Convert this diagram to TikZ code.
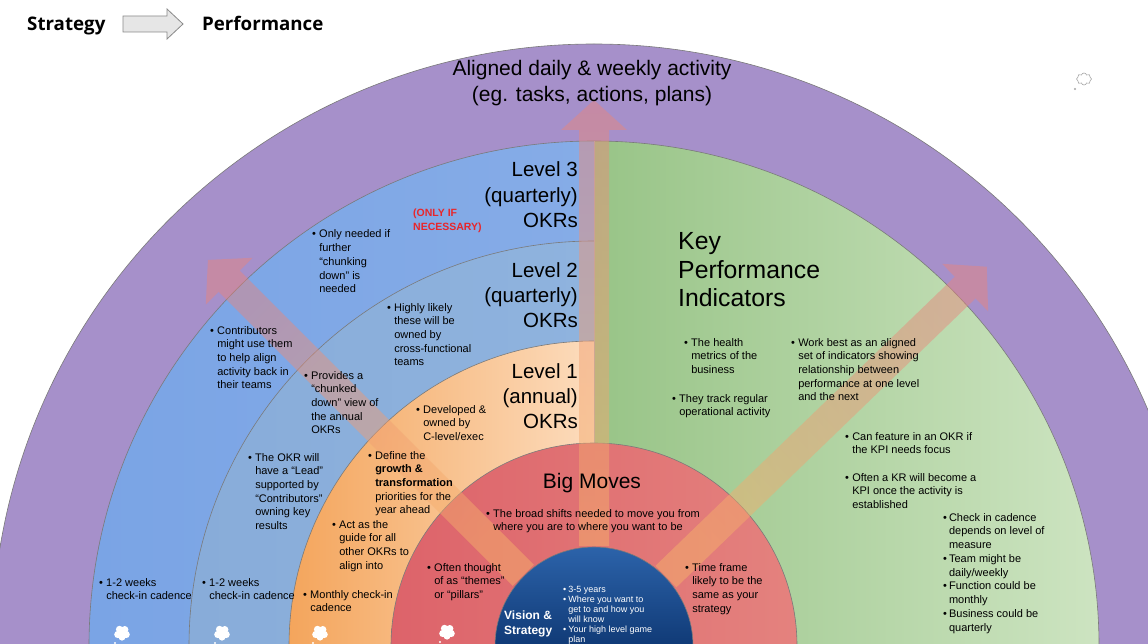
\documentclass[tikz,border=0pt]{standalone}
\usepackage{fontspec}
\setmainfont{Liberation Sans}
\newfontfamily\hdrfont{Open Sans}
\usetikzlibrary{shapes.symbols}
\definecolor{ringgray}{HTML}{7A7A7A}
\definecolor{purpL}{HTML}{A690CA}
\definecolor{purpM}{HTML}{C2B4DE}
\definecolor{lthreeL}{HTML}{7AA4E5}
\definecolor{lthreeM}{HTML}{CCDCF5}
\definecolor{lthreeR}{HTML}{86ACE7}
\definecolor{ltwoL}{HTML}{88ACD9}
\definecolor{ltwoM}{HTML}{B4CDE9}
\definecolor{ltwoR}{HTML}{8FB3DE}
\definecolor{loneL}{HTML}{F4A55C}
\definecolor{loneR}{HTML}{FCDCBD}
\definecolor{greenL}{HTML}{98C487}
\definecolor{greenR}{HTML}{CDE4C1}
\definecolor{redL}{HTML}{DD636A}
\definecolor{redM}{HTML}{F1B0A8}
\definecolor{redR}{HTML}{E4827E}
\definecolor{visT}{HTML}{2C63AA}
\definecolor{visB}{HTML}{103A76}
\definecolor{arrTip}{HTML}{E8847C}
\definecolor{arrBase}{HTML}{F7B56A}
\definecolor{onlyred}{HTML}{E8262B}
\definecolor{hdrarrow}{HTML}{E6E6E6}
\definecolor{hdrline}{HTML}{8A8A8A}
\newcommand\lcol[1]{\begin{tabular}[t]{@{}l@{}}#1\end{tabular}}
\newcommand\rcol[1]{\begin{tabular}[t]{@{}r@{}}#1\end{tabular}}
\newcommand\ccol[1]{\begin{tabular}[t]{@{}c@{}}#1\end{tabular}}
\newcommand\bul[1]{\textbullet\hspace{3.2pt}\lcol{#1}}
\newcommand\cloudat[2]{%
  \fill[white] (#1,#2) circle (4.6pt) (#1-4.2,#2+1.5) circle (3.6pt) (#1+4.2,#2+1.5) circle (3.6pt)
    (#1-2.5,#2-3.6) circle (3.6pt) (#1+2.8,#2-3.4) circle (3.6pt) (#1,#2+4.2) circle (3.4pt)
    (#1-7,#2+10) circle (1.2pt);}
\begin{document}
\begin{tikzpicture}[x=1pt,y=-1pt,
  ring/.style={draw=ringgray, line width=0.6pt},
  bigarrow/.style={top color=arrTip, bottom color=arrBase, fill opacity=0.47, draw=none},
  sm/.style={font=\fontsize{11}{13.7}\selectfont, inner sep=0pt, anchor=base west, text=black},
  hd/.style={font=\hdrfont\bfseries\fontsize{18.7}{22}\selectfont, inner sep=0pt, anchor=base west},
  big/.style={font=\fontsize{21}{26}\selectfont, inner sep=0pt, anchor=base},
  lvl/.style={font=\fontsize{20.5}{25.3}\selectfont, inner sep=0pt, anchor=base east},
  kpi/.style={font=\fontsize{24.8}{28.5}\selectfont, inner sep=0pt, anchor=base west},
  onlyif/.style={font=\bfseries\fontsize{10.5}{14}\selectfont, text=onlyred, inner sep=0pt, anchor=base west},
  vis/.style={font=\bfseries\fontsize{12}{15}\selectfont, text=white, inner sep=0pt, anchor=base west},
  vissm/.style={font=\fontsize{9}{10.1}\selectfont, text=white, inner sep=0pt, anchor=base west},
]
\useasboundingbox (0,0) rectangle (1148,644);
\clip (0,0) rectangle (1148,644);
\fill[white] (0,0) rectangle (1148,644);

% rings
\shade[left color=purpL, middle color=purpM, right color=purpL] (-8,646) arc[start angle=180,end angle=0,radius=602pt] -- cycle;
\draw[ring] (-8,646) arc[start angle=180,end angle=0,radius=602pt];
\shade[left color=lthreeL, middle color=lthreeM, right color=lthreeR] (89,646) arc[start angle=180,end angle=90,radius=505pt] -- (594,646) -- cycle;
\shade[left color=greenL, right color=greenR] (594,646) -- (1099,646) arc[start angle=0,end angle=90,radius=505pt] -- cycle;
\draw[ring] (89,646) arc[start angle=180,end angle=0,radius=505pt];
\shade[left color=ltwoL, middle color=ltwoM, right color=ltwoR] (189,646) arc[start angle=180,end angle=90,radius=405pt] -- (594,646) -- cycle;
\draw[ring] (189,646) arc[start angle=180,end angle=90,radius=405pt];
\shade[left color=loneL, right color=loneR] (289,646) arc[start angle=180,end angle=90,radius=305pt] -- (594,646) -- cycle;
\draw[ring] (289,646) arc[start angle=180,end angle=90,radius=305pt];
\draw[ring, draw=ringgray!60] (594,141) -- (594,443);
\shade[left color=redL, middle color=redM, right color=redR] (391,646) arc[start angle=180,end angle=0,radius=203pt] -- cycle;
\draw[ring] (391,646) arc[start angle=180,end angle=0,radius=203pt];

% translucent arrows
\begin{scope}[shift={(594,646)}]
\shade[bigarrow] (-15,-100) -- (-15,-516) -- (-33,-516) -- (0,-546) -- (33,-516) -- (15,-516) -- (15,-100) -- cycle;
\end{scope}
\begin{scope}[shift={(594,646)}, rotate=45]
\shade[bigarrow, shading angle=45] (-15,-100) -- (-15,-516) -- (-33,-516) -- (0,-546) -- (33,-516) -- (15,-516) -- (15,-100) -- cycle;
\end{scope}
\begin{scope}[shift={(594,646)}, rotate=-46]
\shade[bigarrow, shading angle=-46] (-15,-100) -- (-15,-516) -- (-33,-516) -- (0,-546) -- (33,-516) -- (15,-516) -- (15,-100) -- cycle;
\end{scope}

% vision circle
\shade[top color=visT, bottom color=visB] (495,646) arc[start angle=180,end angle=0,radius=99pt] -- cycle;
\draw[ring] (495,646) arc[start angle=180,end angle=0,radius=99pt];

% header
\node[hd] (strat) at (27,31) {Strategy};
\node[hd] (perf) at (202,31) {Performance};
\draw[fill=hdrarrow, draw=hdrline, line width=0.8pt] (123,16) -- (167,16) -- (167,9) -- (183,24) -- (167,39) -- (167,32) -- (123,32) -- cycle;

% titles
\node[big] (aligned) at (592,76) {\ccol{Aligned daily \& weekly activity\\(eg. tasks, actions, plans)}};
\node[lvl] (l3) at (578,177) {\rcol{Level 3\\(quarterly)\\OKRs}};
\node[lvl] (l2) at (578,277) {\rcol{Level 2\\(quarterly)\\OKRs}};
\node[lvl] (l1) at (578,378) {\rcol{Level 1\\(annual)\\OKRs}};
\node[kpi] (kpi) at (678,250) {\lcol{Key\\Performance\\Indicators}};
\node[big] (bigmoves) at (592,488) {Big Moves};
\node[onlyif] (onlyif) at (413,217) {\lcol{(ONLY IF\\NECESSARY)}};

% bullets left
\node[sm] (b1) at (312,238) {\bul{Only needed if\\further\\“chunking\\down” is\\needed}};
\node[sm] (b2) at (387,311) {\bul{Highly likely\\these will be\\owned by\\cross-functional\\teams}};
\node[sm] (b3) at (210,334) {\bul{Contributors\\might use them\\to help align\\activity back in\\their teams}};
\node[sm] (b4) at (304,379) {\bul{Provides a\\“chunked\\down” view of\\the annual\\OKRs}};
\node[sm] (b5) at (416,413) {\bul{Developed \&\\owned by\\C-level/exec}};
\node[sm] (b6) at (248,461) {\bul{The OKR will\\have a “Lead”\\supported by\\“Contributors”\\owning key\\results}};
\node[sm] (b7) at (368,459) {\bul{Define the\\\textbf{growth \&}\\\textbf{transformation}\\priorities for the\\year ahead}};
\node[sm] (b8) at (332,528) {\bul{Act as the\\guide for all\\other OKRs to\\align into}};
\node[sm] (b9) at (99,586) {\bul{1-2 weeks\\check-in cadence}};
\node[sm] (b10) at (202,586) {\bul{1-2 weeks\\check-in cadence}};
\node[sm] (b11) at (303,598) {\bul{Monthly check-in\\cadence}};
\node[sm] (b12) at (427,571) {\bul{Often thought\\of as “themes”\\or “pillars”}};
\node[sm] (b13) at (486,517) {\bul{The broad shifts needed to move you from\\where you are to where you want to be}};
\node[sm] (b14) at (685,571) {\bul{Time frame\\likely to be the\\same as your\\strategy}};

% KPI bullets
\node[sm] (k1) at (684,346) {\bul{The health\\metrics of the\\business}};
\node[sm] (k2) at (672,402) {\bul{They track regular\\operational activity}};
\node[sm] (k3) at (791,346) {\bul{Work best as an aligned\\set of indicators showing\\relationship between\\performance at one level\\and the next}};
\node[sm] (k4) at (845,440) {\bul{Can feature in an OKR if\\the KPI needs focus}};
\node[sm] (k5) at (845,481) {\bul{Often a KR will become a\\KPI once the activity is\\established}};
\node[sm, font=\fontsize{11}{13.75}\selectfont] (k6) at (943,521) {\begin{tabular}[t]{@{}l@{\hspace{2pt}}l@{}}\textbullet&Check in cadence\\&depends on level of\\&measure\\\textbullet&Team might be\\&daily/weekly\\\textbullet&Function could be\\&monthly\\\textbullet&Business could be\\&quarterly\end{tabular}};

% vision text
\node[vis] (vision) at (504,619) {\lcol{Vision \&\\Strategy}};
\node[vissm] (vlist) at (563,592) {\begin{tabular}[t]{@{}l@{\hspace{2pt}}l@{}}\textbullet&3-5 years\\\textbullet&Where you want to\\&get to and how you\\&will know\\\textbullet&Your high level game\\&plan\end{tabular}};

% comment bubbles
\cloudat{122}{633}
\cloudat{222}{633}
\cloudat{320}{633}
\cloudat{447}{632}
\node[cloud, cloud puffs=8, aspect=1.2, draw=gray!70, line width=0.6pt, minimum width=15pt, minimum height=12pt, inner sep=0pt] (c5) at (1084,79) {};
\fill[gray!70] (1075,89) circle (1.2pt);
\end{tikzpicture}
\end{document}
